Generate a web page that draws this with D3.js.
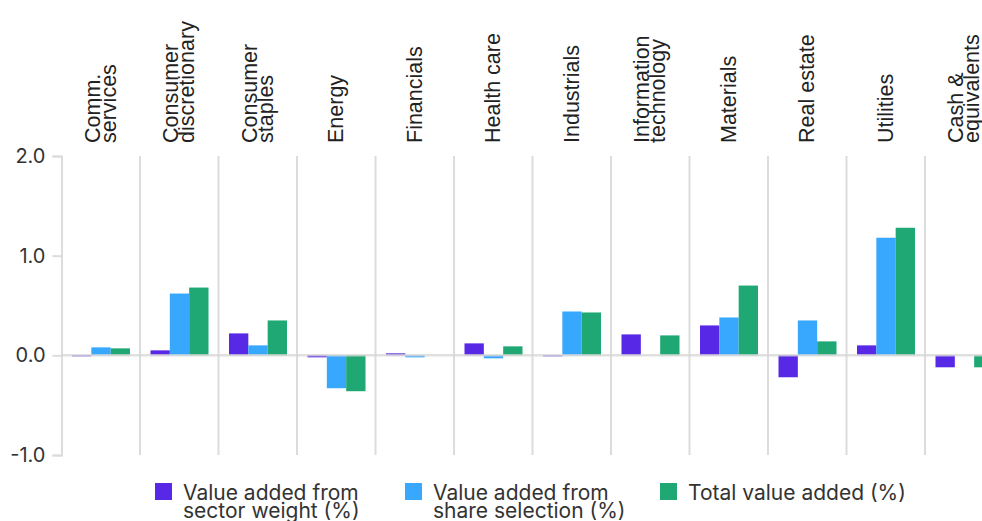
<!DOCTYPE html>
<html>
<head>
<meta charset="utf-8">
<script src="https://cdn.jsdelivr.net/npm/d3@7"></script>
<style>
  html, body { margin: 0; padding: 0; background: #fff; }
  svg { display: block; }
</style>
</head>
<body>
<svg id="chart" width="982" height="521"></svg>
<script>
const categories = ["Comm. services", "Consumer discretionary", "Consumer staples", "Energy", "Financials", "Health care", "Industrials", "Information technology", "Materials", "Real estate", "Utilities", "Cash & equivalents"];
const categoryLabels = [["Comm.", "services"], ["Consumer", "discretionary"], ["Consumer", "staples"], ["Energy"], ["Financials"], ["Health care"], ["Industrials"], ["Information", "technology"], ["Materials"], ["Real estate"], ["Utilities"], ["Cash &", "equivalents"]];
const seriesNames = ["Value added from sector weight (%)", "Value added from share selection (%)", "Total value added (%)"];
const legendLines = [["Value added from", "sector weight (%)"], ["Value added from", "share selection (%)"], ["Total value added (%)"]];
const sectorWeight = [-0.01, 0.05, 0.22, -0.02, 0.02, 0.12, -0.01, 0.21, 0.30, -0.22, 0.10, -0.12];
const shareSelection = [0.08, 0.62, 0.10, -0.33, -0.02, -0.03, 0.44, 0.00, 0.38, 0.35, 1.18, 0.00];
const totalValue = [0.07, 0.68, 0.35, -0.36, 0.00, 0.09, 0.43, 0.20, 0.70, 0.14, 1.28, -0.12];
const yTicks = [-1.0, 0.0, 1.0, 2.0];
const colors = ["#5728E6", "#38A8FF", "#1FA874"];

const series = [sectorWeight, shareSelection, totalValue];
const svg = d3.select("#chart");

const left = 61.5, step = 78.5;
const x = d3.scaleBand().domain(categories).range([left, left + step * categories.length]).paddingInner(0).paddingOuter(0);
const xs = d3.scaleBand().domain(d3.range(series.length)).range([10.5, x.bandwidth() - 10]).padding(0);
const y = d3.scaleLinear().domain([-1, 2]).range([455, 156]);

const gridColor = "#dcdcdc";

// y axis
const yAxis = d3.axisLeft(y).tickValues(yTicks).tickFormat(d => d.toFixed(1)).tickSize(9).tickPadding(7);
const gy = svg.append("g").attr("transform", `translate(${left},0)`).call(yAxis);
gy.select(".domain").attr("stroke", gridColor).attr("stroke-width", 2);
gy.selectAll(".tick line").attr("stroke", gridColor).attr("stroke-width", 2);
gy.selectAll(".tick text").attr("fill", "#333").style("font-family", "Inter, sans-serif").style("font-size", "20px");

// separators between categories
svg.append("g").selectAll("line").data(categories.slice(1)).join("line")
  .attr("x1", d => x(d)).attr("x2", d => x(d))
  .attr("y1", y(2)).attr("y2", y(-1))
  .attr("stroke", gridColor).attr("stroke-width", 2);

// bars
const data = [];
categories.forEach((c, i) => series.forEach((s, k) => data.push({c, k, v: s[i]})));
svg.append("g").selectAll("rect").data(data).join("rect")
  .attr("x", d => x(d.c) + xs(d.k))
  .attr("width", xs.bandwidth())
  .attr("y", d => y(Math.max(0, d.v)))
  .attr("height", d => Math.abs(y(d.v) - y(0)))
  .attr("fill", d => colors[d.k]);

// zero line
svg.append("line")
  .attr("x1", left).attr("x2", 982)
  .attr("y1", y(0)).attr("y2", y(0))
  .attr("stroke", "#d6d6d6").attr("stroke-opacity", 0.75).attr("stroke-width", 2.5);

// category labels
const lg = svg.append("g");
categories.forEach((c, i) => {
  const lines = categoryLabels[i];
  const cx = x(c) + x.bandwidth() / 2;
  lines.forEach((t, j) => {
    const off = (j - (lines.length - 1) / 2) * 16;
    lg.append("text")
      .attr("transform", `translate(${cx + 7 + off},143) rotate(-90)`)
      .attr("text-anchor", "start")
      .attr("fill", "#222")
      .style("font-family", "'Liberation Sans', Arial, sans-serif")
      .style("font-size", "21.5px")
      .text(t);
  });
});

// legend
const legX = [155, 405, 660];
const leg = svg.append("g");
seriesNames.forEach((n, k) => {
  const g = leg.append("g").attr("transform", `translate(${legX[k]},0)`);
  g.append("rect").attr("x", 0).attr("y", 483).attr("width", 17).attr("height", 17).attr("fill", colors[k]);
  legendLines[k].forEach((t, j) => {
    g.append("text").attr("x", 28).attr("y", 500 + j * 18)
      .attr("fill", "#333")
      .style("font-family", "Inter, sans-serif")
      .style("font-size", "21px")
      .text(t);
  });
});
</script>
</body>
</html>
